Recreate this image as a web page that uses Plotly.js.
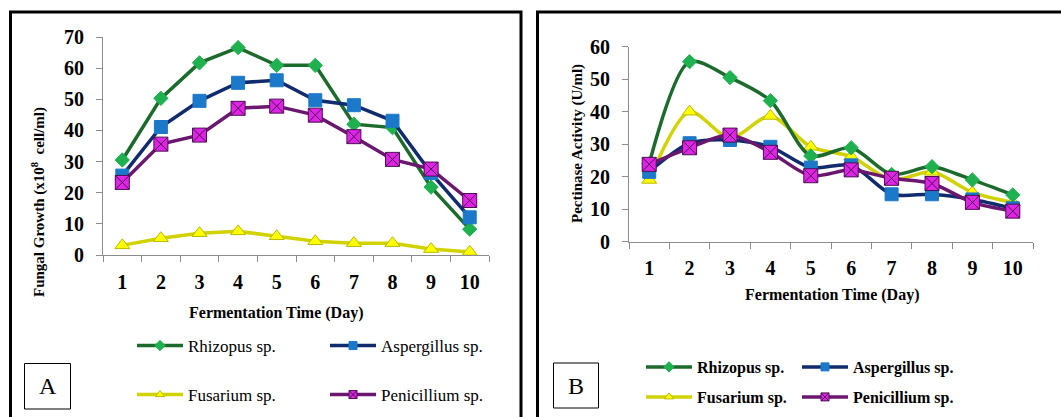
<!DOCTYPE html>
<html>
<head>
<meta charset="utf-8">
<script src="https://cdn.plot.ly/plotly-3.0.1.min.js"></script>
<style>html,body{margin:0;padding:0;background:#fff;}#chart{width:1061px;height:417px;}</style>
</head>
<body>
<div id="chart"></div>
<script>
// ---- data ----
const days = ['1','2','3','4','5','6','7','8','9','10'];
const seriesNames = ['Rhizopus sp.', 'Aspergillus sp.', 'Fusarium sp.', 'Penicillium sp.'];
// Panel A: Fungal growth (x10^8 cell/ml)
const growthRhizopus    = [30.5, 50.3, 61.7, 66.6, 60.9, 60.9, 42.0, 40.9, 21.8, 8.3];
const growthAspergillus = [25.5, 41.1, 49.5, 55.3, 56.1, 49.7, 48.1, 43.1, 26.3, 12.1];
const growthFusarium    = [3.1, 5.4, 7.0, 7.6, 6.0, 4.4, 3.8, 3.8, 1.9, 1.0];
const growthPenicillium = [23.3, 35.6, 38.5, 47.1, 47.8, 44.9, 38.0, 30.7, 27.6, 17.5];
// Panel B: Pectinase activity (U/ml)
const pectRhizopus    = [24.0, 55.4, 50.5, 43.4, 26.4, 28.9, 20.7, 23.1, 19.0, 14.4];
const pectAspergillus = [21.5, 30.3, 31.3, 29.2, 22.8, 23.5, 14.6, 14.6, 13.0, 10.3];
const pectFusarium    = [19.0, 40.0, 31.8, 38.7, 29.2, 26.2, 19.0, 21.5, 15.2, 12.1];
const pectPenicillium = [23.8, 28.9, 32.8, 27.5, 20.3, 22.1, 19.5, 17.9, 12.1, 9.4];
const yTicksA = [0, 10, 20, 30, 40, 50, 60, 70];
const yTicksB = [0, 10, 20, 30, 40, 50, 60];

// ---- styles ----
const W = 1061, H = 417;
const px = v => v / W;
const py = v => 1 - v / H;
const styles = [
  {line: '#1d6b2c', marker: '#1fb14f', mline: '#1fb14f', symbol: 'diamond', size: 11, lsize: 8},
  {line: '#112c6e', marker: '#1c78c9', mline: '#1c78c9', symbol: 'square', size: 13, lsize: 8},
  {line: '#d2d200', marker: '#ffff00', mline: '#b8b800', symbol: 'triangle-up', size: 13, lsize: 8},
  {line: '#6a176f', marker: '#e024e6', mline: '#4a1050', symbol: 'square-x', size: 14, lsize: 8}
];
const serif = '"Times New Roman", "Liberation Serif", Tinos, "DejaVu Serif", serif';

const dataA = [growthRhizopus, growthAspergillus, growthFusarium, growthPenicillium];
const dataB = [pectRhizopus, pectAspergillus, pectFusarium, pectPenicillium];

const traces = [];
const legendTraces = [];
function addPanel(dataSet, xa, ya, spline, legendOffset) {
  dataSet.forEach((ys, i) => {
    const s = styles[i];
    const line = {color: s.line, width: 3.5};
    if (spline) { line.shape = 'spline'; line.smoothing = 0.8; }
    traces.push({
      x: days, y: ys, xaxis: xa, yaxis: ya, name: seriesNames[i], type: 'scatter', mode: 'lines+markers',
      line: line, showlegend: false,
      marker: {symbol: s.symbol, size: s.size, color: s.marker, line: {color: s.mline, width: 1}},
      cliponaxis: false
    });
    const k = legendOffset + i;
    legendTraces.push({
      x: [null], y: [null], xaxis: xa, yaxis: ya, name: seriesNames[i], type: 'scatter', mode: 'lines+markers',
      line: {color: s.line, width: 3.5},
      marker: {symbol: s.symbol, size: s.lsize, color: s.marker, line: {color: s.mline, width: 1}},
      legend: 'legend' + (k === 1 ? '' : k), showlegend: true
    });
  });
}
addPanel(dataA, 'x', 'y', false, 1);
addPanel(dataB, 'x2', 'y2', true, 5);
// draw stacking: fusarium, rhizopus, aspergillus, penicillium
const order = [2, 0, 1, 3, 6, 4, 5, 7];
const drawTraces = order.map(k => traces[k]).concat(legendTraces);

const axisCommon = {
  showgrid: false, zeroline: false, showline: true, linecolor: '#8c8c8c', linewidth: 1,
  ticks: 'outside', ticklen: 6, tickcolor: '#8c8c8c', tickwidth: 1,
  tickfont: {family: serif, size: 20, color: '#000', weight: 'bold'}, fixedrange: true
};

// legend anchor points (start of legend line, row centre)
const legA = [[139, 346], [332, 346], [139, 395], [332, 395]];
const legB = [[648, 367], [804, 367], [648, 397], [804, 397]];
const layout = {
  width: W, height: H, margin: {l: 0, r: 0, t: 0, b: 0},
  font: {family: serif},
  paper_bgcolor: '#fff', plot_bgcolor: 'rgba(0,0,0,0)',
  xaxis: Object.assign({}, axisCommon, {domain: [px(103), px(489)], anchor: 'y', type: 'category', tickson: 'boundaries', range: [-0.5, 9.5], ticklabelstandoff: 9}),
  yaxis: Object.assign({}, axisCommon, {domain: [py(255), py(37)], anchor: 'x', range: [0, 70], tickvals: yTicksA, ticklabelstandoff: 8}),
  xaxis2: Object.assign({}, axisCommon, {domain: [px(629), px(1033)], anchor: 'y2', type: 'category', tickson: 'boundaries', range: [-0.5, 9.5], ticklabelstandoff: 8}),
  yaxis2: Object.assign({}, axisCommon, {domain: [py(241.7), py(46.7)], anchor: 'x2', range: [0, 60], tickvals: yTicksB, ticklabelstandoff: 8}),
  showlegend: true,
  shapes: [
    {type: 'rect', xref: 'paper', yref: 'paper', x0: px(10.5), x1: px(521), y0: py(430), y1: py(12), line: {color: '#000', width: 3}},
    {type: 'rect', xref: 'paper', yref: 'paper', x0: px(537.5), x1: px(1080), y0: py(430), y1: py(12), line: {color: '#000', width: 3}},
    {type: 'rect', xref: 'paper', yref: 'paper', x0: px(24.5), x1: px(70.5), y0: py(409), y1: py(363.5), line: {color: '#000', width: 1}},
    {type: 'rect', xref: 'paper', yref: 'paper', x0: px(553.5), x1: px(598.5), y0: py(408), y1: py(363), line: {color: '#000', width: 1}}
  ],
  annotations: [
    {text: 'A', xref: 'paper', yref: 'paper', x: px(47.5), y: py(386), xanchor: 'center', yanchor: 'middle', showarrow: false, font: {family: serif, size: 24, color: '#000'}},
    {text: 'B', xref: 'paper', yref: 'paper', x: px(576), y: py(385.5), xanchor: 'center', yanchor: 'middle', showarrow: false, font: {family: serif, size: 24, color: '#000'}},
    {text: 'Fermentation Time (Day)', xref: 'paper', yref: 'paper', x: px(276), y: py(313), xanchor: 'center', yanchor: 'middle', showarrow: false, font: {family: serif, size: 16, color: '#000', weight: 'bold'}},
    {text: 'Fermentation Time (Day)', xref: 'paper', yref: 'paper', x: px(832), y: py(295), xanchor: 'center', yanchor: 'middle', showarrow: false, font: {family: serif, size: 16, color: '#000', weight: 'bold'}},
    {text: 'Fungal Growth (x10<sup>8</sup>  cell/ml)', xref: 'paper', yref: 'paper', x: px(38), y: py(202), xanchor: 'center', yanchor: 'middle', textangle: -90, showarrow: false, font: {family: serif, size: 15, color: '#000', weight: 'bold'}},
    {text: 'Pectinase Activity (U/ml)', xref: 'paper', yref: 'paper', x: px(577), y: py(144), xanchor: 'center', yanchor: 'middle', textangle: -90, showarrow: false, font: {family: serif, size: 15, color: '#000', weight: 'bold'}}
  ]
};
legA.forEach((p, i) => {
  const k = i + 1;
  layout['legend' + (k === 1 ? '' : k)] = {x: px(p[0] - 7), y: py(p[1]), xanchor: 'left', yanchor: 'middle', bgcolor: 'rgba(0,0,0,0)', borderwidth: 0,
    font: {family: serif, size: 17, color: '#000'}, itemwidth: 46};
});
legB.forEach((p, i) => {
  layout['legend' + (i + 5)] = {x: px(p[0] - 7), y: py(p[1]), xanchor: 'left', yanchor: 'middle', bgcolor: 'rgba(0,0,0,0)', borderwidth: 0,
    font: {family: serif, size: 16, color: '#000', weight: 'bold'}, itemwidth: 46};
});
Plotly.newPlot('chart', drawTraces, layout, {displayModeBar: false, staticPlot: true});
</script>
</body>
</html>
